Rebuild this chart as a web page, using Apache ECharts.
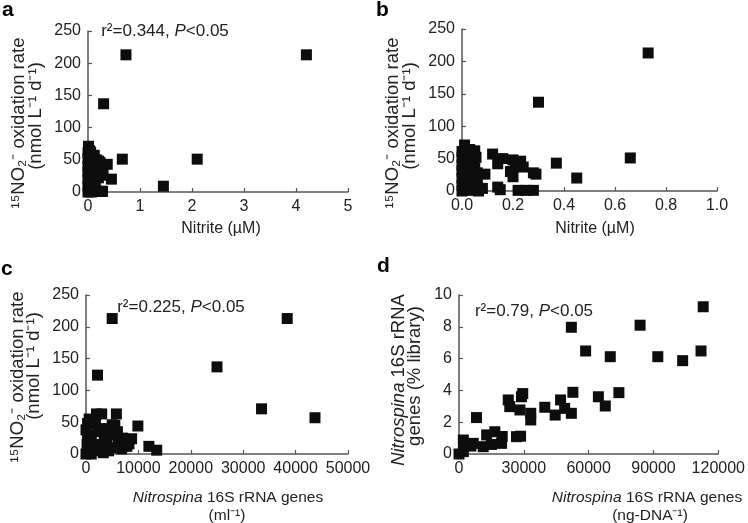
<!DOCTYPE html>
<html>
<head>
<meta charset="utf-8">
<script src="https://cdn.jsdelivr.net/npm/echarts@6/dist/echarts.min.js"></script>
<style>
  html, body { margin: 0; background: #fff; }
  #chart { width: 748px; height: 523px; }
</style>
</head>
<body>
<div id="chart"></div>
<script>
// a + b: nitrite (uM) vs 15NO2- oxidation rate (nmol L-1 d-1)
const nitrite = [4.2, 0.73, 0.3, 0.66, 2.1, 1.45, 0.37, 0.45, 0.12, 0.14, 0.09, 0.14, 0.15,
  0.2, 0.21, 0.2, 0.24, 0.28, 0.22, 0.25, 0.28, 0.19, 0.23, 0.16, 0.29,
  0, 0, 0, 0, 0, 0, 0, 0.01, 0.02, 0.02, 0.02, 0.02, 0.03, 0.03, 0.03, 0.03,
  0.04, 0.04, 0.045, 0.05, 0.05, 0.05, 0.055, 0.06, 0.06, 0.06, 0.065, 0.08];
const oxRate = [213, 213, 137, 51, 51, 9, 43, 20, 57, 42, 26, 6, 2,
  48, 38, 22, 37, 28, 1, 1, 1, 30, 46, 50, 26,
  0, 9, 20, 31, 40, 52, 61, 71, 8, 30, 45, 60, 1, 15, 38, 64,
  18, 25, 45, 35, 62, 5, 52, 6, 12, 28, 0, 4];

// c: Nitrospina 16S rRNA genes (ml-1) vs oxidation rate
const genesMl = [5000, 2200, 25000, 38400, 33500, 43700, 9900, 12000, 13500, 5800, 3000, 2000,
  1400, 300, 8700, 7800, 6800, 3300, 400, 1000, 2200, 3800, 5000, 5200, 6200, 300, 1500,
  2800, 4000, 5500, 7000, 1000, 2500, 200, 4800, 6000, 0, 0, 600, 1800, 3500, 4300, 8200];
const rateMl = [213, 124, 137, 213, 71, 57, 44, 12, 6, 63, 63, 63,
  52, 48, 24, 12, 8, 2, 6, 25, 35, 40, 46, 30, 20, 30, 15,
  15, 20, 45, 25, 0, 5, 15, 10, 35, 0, 38, 55, 50, 28, 5, 16];

// d: Nitrospina 16S rRNA genes (ng-DNA-1) vs % of library
const genesNg = [113000, 83800, 52000, 58600, 70000, 92000, 103500, 112000, 52700, 74000, 64500,
  67700, 52000, 48900, 47000, 44500, 39700, 33200, 33200, 28900, 29500, 28200, 22800, 23500,
  26600, 28500, 8100, 16600, 19700, 20000, 12800, 11200, 6600, 2000, 2300, 0, 2000, 5500, 15000];
const libPct = [9.26, 8.1, 7.97, 6.48, 6.12, 6.12, 5.87, 6.48, 3.88, 3.86, 3.6,
  3.02, 2.56, 2.87, 3.4, 2.45, 2.94, 2.56, 2.14, 3.6, 3.8, 2.77, 3.4, 2.98,
  1.09, 1.12, 2.29, 1.4, 0.67, 1.1, 1.2, 0.46, 0.67, 0.88, 0.5, 0, 0.15, 0.5, 0.6];

const FONT = 'Liberation Sans, Arial, sans-serif';
const TXT = '#222';
const AX = '#555';

const zip = (xs, ys) => xs.map((x, i) => [x, ys[i]]);

function axis(gridIndex, max, interval, fmt) {
  return {
    type: 'value', gridIndex, min: 0, max, interval,
    axisLine: { show: true, onZero: false, lineStyle: { color: AX, width: 1.5 } },
    axisTick: { show: true, inside: true, length: 4, lineStyle: { color: AX, width: 1.2 } },
    axisLabel: { color: TXT, fontSize: 16, fontFamily: FONT, margin: 7, formatter: fmt || (v => String(v)) },
    splitLine: { show: false }
  };
}

function scatter(i, data) {
  return {
    type: 'scatter', xAxisIndex: i, yAxisIndex: i, data,
    symbol: 'rect', symbolSize: 11, clip: false,
    itemStyle: { color: '#0d0d0d', opacity: 1 }
  };
}

function makeRich(size) {
  return {
    n: { fontSize: size, fontFamily: FONT, fill: TXT, color: TXT },
    i: { fontSize: size, fontFamily: FONT, fontStyle: 'italic', fill: TXT, color: TXT }
  };
}

function label(x, y, text, size, rot) {
  return {
    type: 'text', x, y, rotation: rot ? Math.PI / 2 : 0,
    style: { text, rich: makeRich(size), align: 'center', verticalAlign: 'middle', font: size + 'px ' + FONT, fill: TXT }
  };
}

function letter(x, y, t) {
  return { type: 'text', x, y, style: { text: t, font: 'bold 21px ' + FONT, fill: '#000' } };
}

const yName1 = '{n|¹⁵NO₂⁻ oxidation rate}';
const yName2 = '{n|(nmol L⁻¹ d⁻¹)}';
const YS = 18.5;

const chart = echarts.init(document.getElementById('chart'));
chart.setOption({
  animation: false,
  grid: [
    { left: 88, top: 31, width: 260, height: 161 },
    { left: 462, top: 29, width: 255, height: 162 },
    { left: 86, top: 295, width: 262, height: 159 },
    { left: 459, top: 295, width: 260, height: 159 }
  ],
  xAxis: [
    axis(0, 5, 1),
    axis(1, 1, 0.2, v => v.toFixed(1)),
    axis(2, 50000, 10000),
    axis(3, 120000, 30000)
  ],
  yAxis: [
    axis(0, 250, 50),
    axis(1, 250, 50),
    axis(2, 250, 50),
    axis(3, 10, 2)
  ],
  series: [
    scatter(0, zip(nitrite, oxRate)),
    scatter(1, zip(nitrite, oxRate).filter(p => p[0] <= 1)),
    scatter(2, zip(genesMl, rateMl)),
    scatter(3, zip(genesNg, libPct))
  ],
  graphic: [
    letter(2, 0, 'a'), letter(376, 0, 'b'), letter(1, 259, 'c'), letter(377, 256, 'd'),
    label(165, 31, '{n|r²=0.344, }{i|P}{n|<0.05}', 17),
    label(181, 307, '{n|r²=0.225, }{i|P}{n|<0.05}', 17),
    label(534, 311, '{n|r²=0.79, }{i|P}{n|<0.05}', 17),
    label(19, 123, yName1, YS, true), label(36, 116, yName2, YS, true),
    label(393, 123, yName1, YS, true), label(410, 116, yName2, YS, true),
    label(18, 377, yName1, YS, true), label(34, 366, yName2, YS, true),
    label(399, 380, '{i|Nitrospina}{n| 16S rRNA}', YS, true), label(415, 376, '{n|genes (% library)}', YS, true),
    label(221, 229, '{n|Nitrite (µM)}', 16),
    label(595, 229, '{n|Nitrite (µM)}', 16),
    label(228, 498, '{i|Nitrospina}{n| 16S rRNA genes}', 15.5), label(227, 516, '{n|(ml⁻¹)}', 15.5),
    label(647, 498, '{i|Nitrospina}{n| 16S rRNA genes}', 15.5), label(650, 516, '{n|(ng-DNA⁻¹)}', 15.5)
  ]
});
</script>
</body>
</html>
